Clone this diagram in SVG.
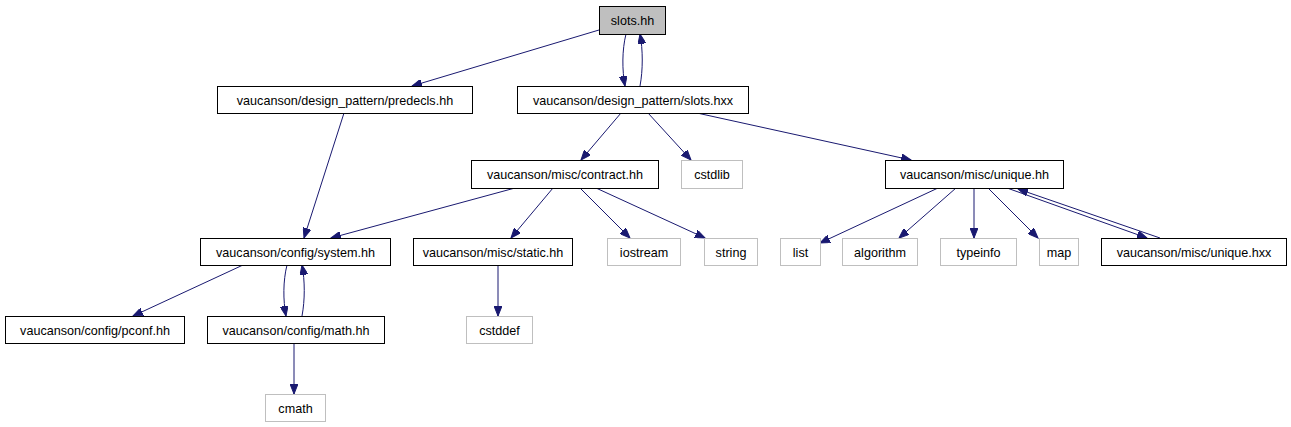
<svg xmlns="http://www.w3.org/2000/svg" width="1291" height="427" viewBox="0 0 1291 427">
<style>
.n rect{fill:#fff;stroke:#000;stroke-width:1}
.g rect{fill:#fff;stroke:#bfbfbf;stroke-width:1}
.r rect{fill:#bfbfbf;stroke:#000;stroke-width:1}
text{font-family:"Liberation Sans",Arial,sans-serif;font-size:12.6px;text-anchor:middle;fill:#000}
#edges path{fill:none;stroke:#191970;stroke-width:1}
</style>
<defs>
<marker id="a" markerUnits="userSpaceOnUse" markerWidth="11" markerHeight="8" refX="10" refY="4" orient="auto">
<path d="M0,0 L10,4 L0,8 Z" fill="#191970" stroke="#191970"/>
</marker>
</defs>
<rect width="1291" height="427" fill="#fff"/>
<g id="edges">
<path d="M599,30 L412,86" marker-end="url(#a)"/>
<path d="M626,34 C622,50 622,70 625,86" marker-end="url(#a)"/>
<path d="M640,86 C643,70 643,50 640,34" marker-end="url(#a)"/>
<path d="M344,113 L304,238" marker-end="url(#a)"/>
<path d="M621,113 L581,160" marker-end="url(#a)"/>
<path d="M648,113 L691,160" marker-end="url(#a)"/>
<path d="M697,113 L911,160" marker-end="url(#a)"/>
<path d="M515,188 L331,238" marker-end="url(#a)"/>
<path d="M553,188 L511,238" marker-end="url(#a)"/>
<path d="M580,188 L630,238" marker-end="url(#a)"/>
<path d="M596,188 L705,238" marker-end="url(#a)"/>
<path d="M243,265 L133,316" marker-end="url(#a)"/>
<path d="M287,265 C283,281 283,300 286,316" marker-end="url(#a)"/>
<path d="M302,316 C305,300 305,281 302,265" marker-end="url(#a)"/>
<path d="M498,265 L498,316" marker-end="url(#a)"/>
<path d="M294,343 L294,394" marker-end="url(#a)"/>
<path d="M938,188 L820,243" marker-end="url(#a)"/>
<path d="M956,188 L899,238" marker-end="url(#a)"/>
<path d="M974,188 L974,238" marker-end="url(#a)"/>
<path d="M988,188 L1038,238" marker-end="url(#a)"/>
<path d="M1007,188 L1147,238" marker-end="url(#a)"/>
<path d="M1160,238 L1018,189" marker-end="url(#a)"/>
</g>
<g id="n_slots_hh" class="r"><rect x="599.5" y="6.5" width="66" height="28"/><text x="632.5" y="25">slots.hh</text></g>
<g id="n_predecls" class="n"><rect x="217.5" y="86.5" width="255" height="27"/><text x="345" y="104.5">vaucanson/design_pattern/predecls.hh</text></g>
<g id="n_slots_hxx" class="n"><rect x="517.5" y="86.5" width="231" height="27"/><text x="633" y="104.5">vaucanson/design_pattern/slots.hxx</text></g>
<g id="n_contract" class="n"><rect x="471.5" y="160.5" width="187" height="28"/><text x="565" y="179">vaucanson/misc/contract.hh</text></g>
<g id="n_cstdlib" class="g"><rect x="681.5" y="160.5" width="61" height="28"/><text x="712" y="179">cstdlib</text></g>
<g id="n_unique_hh" class="n"><rect x="885.5" y="160.5" width="178" height="28"/><text x="974.5" y="179">vaucanson/misc/unique.hh</text></g>
<g id="n_system" class="n"><rect x="200.5" y="238.5" width="190" height="27"/><text x="295.5" y="256.5">vaucanson/config/system.hh</text></g>
<g id="n_static" class="n"><rect x="413.5" y="238.5" width="159" height="27"/><text x="493" y="256.5">vaucanson/misc/static.hh</text></g>
<g id="n_iostream" class="g"><rect x="607.5" y="238.5" width="73" height="27"/><text x="644" y="256.5">iostream</text></g>
<g id="n_string" class="g"><rect x="704.5" y="238.5" width="53" height="27"/><text x="731" y="256.5">string</text></g>
<g id="n_list" class="g"><rect x="780.5" y="238.5" width="40" height="27"/><text x="800.5" y="256.5">list</text></g>
<g id="n_algorithm" class="g"><rect x="842.5" y="238.5" width="75" height="27"/><text x="880" y="256.5">algorithm</text></g>
<g id="n_typeinfo" class="g"><rect x="940.5" y="238.5" width="76" height="27"/><text x="978.5" y="256.5">typeinfo</text></g>
<g id="n_map" class="g"><rect x="1039.5" y="238.5" width="39" height="27"/><text x="1059" y="256.5">map</text></g>
<g id="n_unique_hxx" class="n"><rect x="1101.5" y="238.5" width="185" height="27"/><text x="1194" y="256.5">vaucanson/misc/unique.hxx</text></g>
<g id="n_pconf" class="n"><rect x="5.5" y="316.5" width="179" height="27"/><text x="95" y="334.5">vaucanson/config/pconf.hh</text></g>
<g id="n_math" class="n"><rect x="207.5" y="316.5" width="177" height="27"/><text x="296" y="334.5">vaucanson/config/math.hh</text></g>
<g id="n_cstddef" class="g"><rect x="466.5" y="316.5" width="66" height="27"/><text x="499.5" y="334.5">cstddef</text></g>
<g id="n_cmath" class="g"><rect x="265.5" y="394.5" width="60" height="27"/><text x="295.5" y="412.5">cmath</text></g>
</svg>
